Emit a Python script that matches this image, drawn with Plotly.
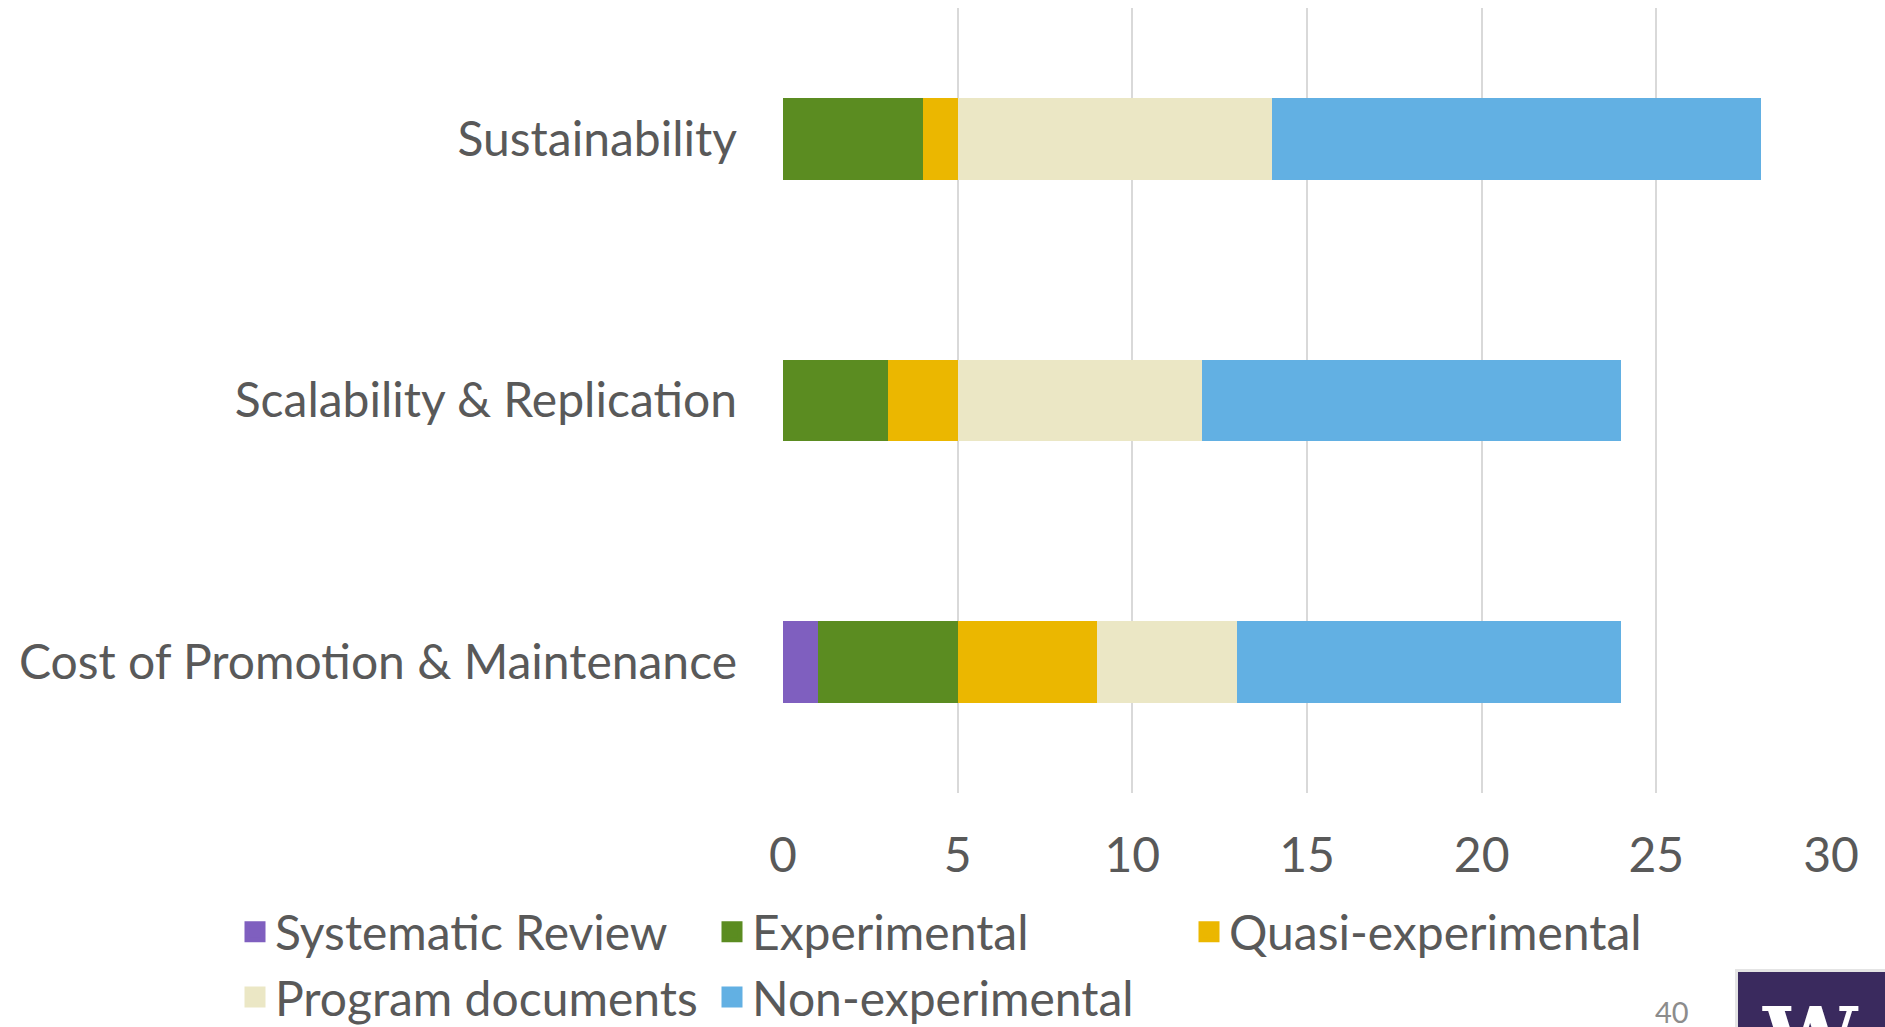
import plotly.graph_objects as go

categories = ["Cost of Promotion & Maintenance", "Scalability & Replication", "Sustainability"]
series_names = ["Systematic Review", "Experimental", "Quasi-experimental", "Program documents", "Non-experimental"]
systematic_review = [1, 0, 0]
experimental = [4, 3, 4]
quasi_experimental = [4, 2, 1]
program_documents = [4, 7, 9]
non_experimental = [11, 12, 14]
x_ticks = [0, 5, 10, 15, 20, 25, 30]

colors = ["#7F5FBF", "#5B8C21", "#EBB700", "#EBE7C5", "#62B0E3"]
values = [systematic_review, experimental, quasi_experimental, program_documents, non_experimental]

FONT = "Lato"
TXT = "#595959"

W, H = 1885, 1027
PL, PR, PT, PB = 783, 1831, 8, 793   # plot area in pixels


def px(x):
    return (x - PL) / (PR - PL)


def py(y):
    return (PB - y) / (PB - PT)


fig = go.Figure()
for name, vals, col in zip(series_names, values, colors):
    fig.add_trace(go.Bar(
        y=categories, x=vals, name=name, orientation="h",
        marker=dict(color=col, line=dict(width=0)),
        legendgroup=name, showlegend=False,
        hovertemplate="%{y}<br>" + name + ": %{x}<extra></extra>",
    ))
# legend entries (larger square swatches)
for name, col in zip(series_names, colors):
    fig.add_trace(go.Scatter(
        x=[None], y=[None], mode="markers", name=name, legendgroup=name,
        marker=dict(symbol="square", size=16, color=col, line=dict(width=5, color=col)),
        showlegend=True, hoverinfo="skip",
    ))

fig.update_layout(
    width=W, height=H,
    barmode="stack", bargap=0.687,
    paper_bgcolor="white", plot_bgcolor="white",
    margin=dict(l=PL, r=W - PR, t=PT, b=H - PB, autoexpand=False),
    font=dict(family=FONT, color=TXT, size=48),
    xaxis=dict(range=[0, 30], tickvals=x_ticks, showgrid=True, gridcolor="#D9D9D9",
               gridwidth=2, zeroline=False, showline=False, ticks="",
               ticklabelstandoff=30, tickfont=dict(size=48, color=TXT), fixedrange=True),
    yaxis=dict(categoryorder="array", categoryarray=categories, showgrid=False,
               zeroline=False, showline=False, ticks="", ticklabelstandoff=45,
               tickfont=dict(size=48, color=TXT), fixedrange=True),
    legend=dict(orientation="h", xref="paper", yref="paper",
                x=px(235), y=py(894), xanchor="left", yanchor="top",
                entrywidth=432, entrywidthmode="pixels", traceorder="normal",
                font=dict(size=48, color=TXT), bgcolor="rgba(0,0,0,0)"),
    showlegend=True,
)

# page number and logo block (slide decoration)
fig.add_annotation(xref="paper", yref="paper", x=px(1672), y=py(1011),
                   text="40", showarrow=False, font=dict(size=29, color="#8C8C8C", family=FONT),
                   xanchor="center", yanchor="middle")
fig.add_shape(type="rect", xref="paper", yref="paper",
              x0=px(1735), x1=px(1900), y0=py(1040), y1=py(969),
              fillcolor="#E4E4E4", line=dict(width=0), layer="above")
fig.add_shape(type="rect", xref="paper", yref="paper",
              x0=px(1738), x1=px(1900), y0=py(1040), y1=py(972),
              fillcolor="#3A2A5E", line=dict(width=0), layer="above")
fig.add_annotation(xref="paper", yref="paper", x=px(1810), y=py(987),
                   text="<b>W</b>", showarrow=False, yanchor="top", xanchor="center",
                   font=dict(size=84, color="white", family="DejaVu Serif"))

fig.write_html("out.html", config={"displayModeBar": False},
               post_script="document.body.style.margin='0px';document.body.style.overflow='hidden';")
